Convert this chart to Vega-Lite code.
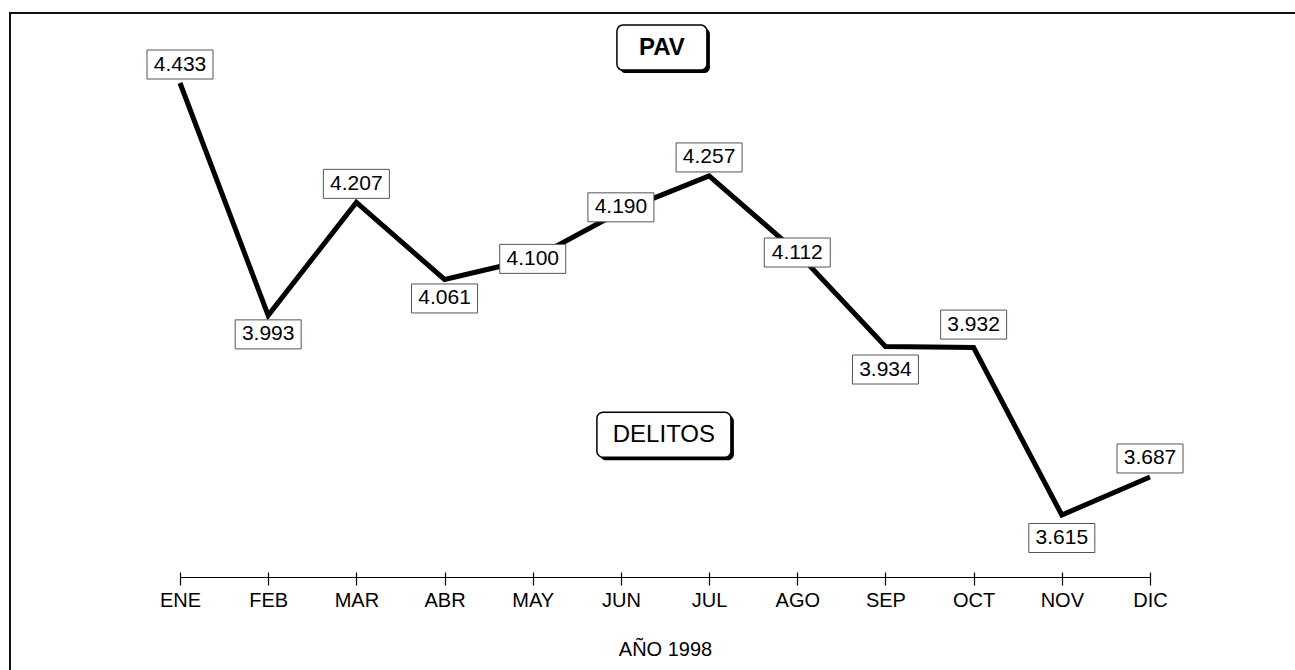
{
  "$schema": "https://vega.github.io/schema/vega-lite/v6.json",
  "width": 1300,
  "height": 700,
  "autosize": {"type": "none"},
  "padding": {"left": 10, "top": 13, "right": 0, "bottom": 0},
  "background": "white",
  "config": {
    "view": {"stroke": "#111111", "strokeWidth": 2},
    "font": "Liberation Sans",
    "locale": {"number": {"decimal": ",", "thousands": ".", "grouping": [3], "currency": ["", " €"]}}
  },
  "datasets": {
    "delitos": [
      {"mes": "ENE", "valor": 4433},
      {"mes": "FEB", "valor": 3993},
      {"mes": "MAR", "valor": 4207},
      {"mes": "ABR", "valor": 4061},
      {"mes": "MAY", "valor": 4100},
      {"mes": "JUN", "valor": 4190},
      {"mes": "JUL", "valor": 4257},
      {"mes": "AGO", "valor": 4112},
      {"mes": "SEP", "valor": 3934},
      {"mes": "OCT", "valor": 3932},
      {"mes": "NOV", "valor": 3615},
      {"mes": "DIC", "valor": 3687}
    ]
  },
  "data": {"name": "delitos"},
  "resolve": {"axis": {"x": "independent"}},
  "encoding": {
    "x": {
      "field": "mes", "type": "ordinal", "sort": null,
      "scale": {"type": "point", "domain": ["ENE","FEB","MAR","ABR","MAY","JUN","JUL","AGO","SEP","OCT","NOV","DIC"], "range": [170, 1140], "padding": 0},
      "axis": null
    },
    "y": {
      "field": "valor", "type": "quantitative",
      "scale": {"domain": [3615, 4433], "range": [502, 70], "zero": false, "nice": false},
      "axis": null
    }
  },
  "layer": [
    {
      "mark": {"type": "line", "color": "black", "strokeWidth": 5, "strokeJoin": "miter"},
      "encoding": {
        "x": {
          "field": "mes", "type": "ordinal", "sort": null,
          "axis": {
            "orient": "bottom", "offset": -136, "title": "AÑO 1998",
            "domainColor": "black", "domainWidth": 1.2, "tickColor": "black", "tickWidth": 1.2, "tickSize": 8,
            "labelFont": "Liberation Sans", "labelFontSize": 20, "labelColor": "black", "labelPadding": 5, "labelAngle": 0,
            "titleFont": "Liberation Sans", "titleFontSize": 20, "titleFontWeight": "normal", "titleColor": "black", "titlePadding": 29,
            "grid": false
          }
        }
      }
    },
    {
      "mark": {"type": "line", "strokeOpacity": 0},
      "encoding": {
        "x": {
          "field": "mes", "type": "ordinal", "sort": null,
          "axis": {"orient": "top", "offset": -564, "title": null, "labels": false, "domain": false, "tickColor": "black", "tickWidth": 1.2, "tickSize": 5, "grid": false}
        }
      }
    },
    {
      "transform": [{"filter": {"field": "mes", "oneOf": ["ENE", "MAR", "JUL", "DIC"]}}],
      "encoding": {"yOffset": {"value": -18.5}},
      "layer": [
        {"mark": {"type": "point", "shape": "M-1,-0.4394H1V0.4394H-1Z", "size": 4356, "filled": true, "fill": "white", "stroke": "#555555", "strokeWidth": 1, "opacity": 1}},
        {"mark": {"type": "text", "fontSize": 21, "baseline": "middle", "color": "black"}, "encoding": {"text": {"field": "valor", "type": "quantitative", "format": ",d"}}}
      ]
    },
    {
      "transform": [{"filter": {"field": "mes", "oneOf": ["OCT"]}}],
      "encoding": {"yOffset": {"value": -23}},
      "layer": [
        {"mark": {"type": "point", "shape": "M-1,-0.4394H1V0.4394H-1Z", "size": 4356, "filled": true, "fill": "white", "stroke": "#555555", "strokeWidth": 1, "opacity": 1}},
        {"mark": {"type": "text", "fontSize": 21, "baseline": "middle", "color": "black"}, "encoding": {"text": {"field": "valor", "type": "quantitative", "format": ",d"}}}
      ]
    },
    {
      "transform": [{"filter": {"field": "mes", "oneOf": ["FEB", "ABR"]}}],
      "encoding": {"yOffset": {"value": 19}},
      "layer": [
        {"mark": {"type": "point", "shape": "M-1,-0.4394H1V0.4394H-1Z", "size": 4356, "filled": true, "fill": "white", "stroke": "#555555", "strokeWidth": 1, "opacity": 1}},
        {"mark": {"type": "text", "fontSize": 21, "baseline": "middle", "color": "black"}, "encoding": {"text": {"field": "valor", "type": "quantitative", "format": ",d"}}}
      ]
    },
    {
      "transform": [{"filter": {"field": "mes", "oneOf": ["SEP", "NOV"]}}],
      "encoding": {"yOffset": {"value": 23}},
      "layer": [
        {"mark": {"type": "point", "shape": "M-1,-0.4394H1V0.4394H-1Z", "size": 4356, "filled": true, "fill": "white", "stroke": "#555555", "strokeWidth": 1, "opacity": 1}},
        {"mark": {"type": "text", "fontSize": 21, "baseline": "middle", "color": "black"}, "encoding": {"text": {"field": "valor", "type": "quantitative", "format": ",d"}}}
      ]
    },
    {
      "transform": [{"filter": {"field": "mes", "oneOf": ["MAY", "AGO"]}}],
      "encoding": {"yOffset": {"value": 0}},
      "layer": [
        {"mark": {"type": "point", "shape": "M-1,-0.4394H1V0.4394H-1Z", "size": 4356, "filled": true, "fill": "white", "stroke": "#555555", "strokeWidth": 1, "opacity": 1}},
        {"mark": {"type": "text", "fontSize": 21, "baseline": "middle", "color": "black"}, "encoding": {"text": {"field": "valor", "type": "quantitative", "format": ",d"}}}
      ]
    },
    {
      "transform": [{"filter": {"field": "mes", "oneOf": ["JUN"]}}],
      "encoding": {"yOffset": {"value": -4}},
      "layer": [
        {"mark": {"type": "point", "shape": "M-1,-0.4394H1V0.4394H-1Z", "size": 4356, "filled": true, "fill": "white", "stroke": "#555555", "strokeWidth": 1, "opacity": 1}},
        {"mark": {"type": "text", "fontSize": 21, "baseline": "middle", "color": "black"}, "encoding": {"text": {"field": "valor", "type": "quantitative", "format": ",d"}}}
      ]
    },
    {
      "transform": [{"filter": {"field": "mes", "equal": "JUN"}}],
      "encoding": {"y": {"datum": 4500, "type": "quantitative", "axis": null}},
      "layer": [
        {"mark": {"type": "point", "shape": "M-0.867,-0.5H0.867A0.133,0.133,0,0,1,1,-0.367V0.367A0.133,0.133,0,0,1,0.867,0.5H-0.867A0.133,0.133,0,0,1,-1,0.367V-0.367A0.133,0.133,0,0,1,-0.867,-0.5Z", "size": 8100, "filled": true, "fill": "black", "opacity": 1, "xOffset": 44, "yOffset": 3}},
        {"mark": {"type": "point", "shape": "M-0.867,-0.5H0.867A0.133,0.133,0,0,1,1,-0.367V0.367A0.133,0.133,0,0,1,0.867,0.5H-0.867A0.133,0.133,0,0,1,-1,0.367V-0.367A0.133,0.133,0,0,1,-0.867,-0.5Z", "size": 8100, "filled": true, "fill": "white", "stroke": "black", "strokeWidth": 1.5, "opacity": 1, "xOffset": 41}},
        {"mark": {"type": "text", "text": "PAV", "fontSize": 24, "fontWeight": "bold", "baseline": "middle", "color": "black", "xOffset": 41}}
      ]
    },
    {
      "transform": [{"filter": {"field": "mes", "equal": "JUN"}}],
      "encoding": {"y": {"datum": 3767, "type": "quantitative", "axis": null}},
      "layer": [
        {"mark": {"type": "point", "shape": "M-0.91,-0.336H0.91A0.09,0.09,0,0,1,1,-0.246V0.246A0.09,0.09,0,0,1,0.91,0.336H-0.91A0.09,0.09,0,0,1,-1,0.246V-0.246A0.09,0.09,0,0,1,-0.91,-0.336Z", "size": 17956, "filled": true, "fill": "black", "opacity": 1, "xOffset": 46, "yOffset": 3}},
        {"mark": {"type": "point", "shape": "M-0.91,-0.336H0.91A0.09,0.09,0,0,1,1,-0.246V0.246A0.09,0.09,0,0,1,0.91,0.336H-0.91A0.09,0.09,0,0,1,-1,0.246V-0.246A0.09,0.09,0,0,1,-0.91,-0.336Z", "size": 17956, "filled": true, "fill": "white", "stroke": "black", "strokeWidth": 1.5, "opacity": 1, "xOffset": 43}},
        {"mark": {"type": "text", "text": "DELITOS", "fontSize": 24, "baseline": "middle", "color": "black", "xOffset": 43}}
      ]
    }
  ]
}
